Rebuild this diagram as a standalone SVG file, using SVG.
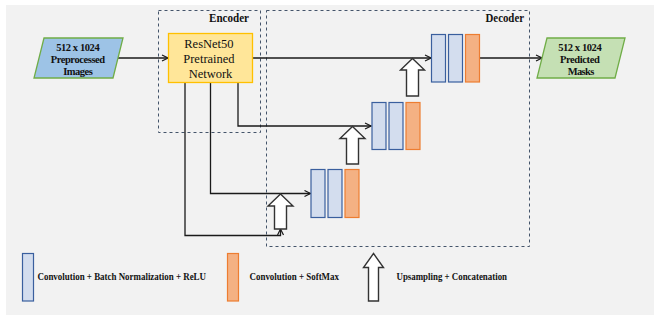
<svg xmlns="http://www.w3.org/2000/svg" width="654" height="320" viewBox="0 0 654 320">
  <style>
    .lbl { font-family: "Liberation Serif", "Times New Roman", serif; fill: #111; }
    .b { font-weight: bold; }
    .conn { fill: none; stroke: #1a1a1a; stroke-width: 1.3; }
    .frame { fill: none; stroke: #44546a; stroke-width: 1; stroke-dasharray: 3 3; }
    .conv { fill: #d3ddee; stroke: #3a5f9e; stroke-width: 1.2; }
    .soft { fill: #f4b183; stroke: #ed7d31; stroke-width: 1.2; }
    .up { fill: #ffffff; stroke: #333333; stroke-width: 1.4; stroke-linejoin: miter; }
  </style>
  <defs>
    <marker id="arr" viewBox="0 0 8 8" refX="7" refY="4" markerWidth="8" markerHeight="8" markerUnits="userSpaceOnUse" orient="auto">
      <path d="M1,1 L7,4 L1,7" fill="none" stroke="#1a1a1a" stroke-width="1.2"/>
    </marker>
  </defs>

  <!-- canvas -->
  <rect x="6" y="5" width="648" height="310" fill="#f2f2f2"/>

  <!-- dashed regions -->
  <g id="encoder">
    <rect class="frame" x="158.5" y="10.5" width="102" height="122"/>
    <text class="lbl b" x="249" y="22" font-size="11.5" text-anchor="end" textLength="40" lengthAdjust="spacingAndGlyphs">Encoder</text>
  </g>
  <g id="decoder">
    <rect class="frame" x="266.5" y="10.5" width="263" height="236"/>
    <text class="lbl b" x="524" y="22" font-size="11.5" text-anchor="end" textLength="38.5" lengthAdjust="spacingAndGlyphs">Decoder</text>
  </g>

  <!-- connectors -->
  <g id="connectors">
    <line class="conn" x1="118" y1="58" x2="168" y2="58" marker-end="url(#arr)"/>
    <line class="conn" x1="252" y1="58" x2="431" y2="58" marker-end="url(#arr)"/>
    <line class="conn" x1="480" y1="58" x2="542" y2="58" marker-end="url(#arr)"/>
    <polyline class="conn" points="238,83 238,126 371,126" marker-end="url(#arr)"/>
    <polyline class="conn" points="210.5,83 210.5,193.5 310.5,193.5" marker-end="url(#arr)"/>
    <polyline class="conn" points="185,83 185,235.5 280.5,235.5 280.5,229" marker-end="url(#arr)"/>
  </g>

  <g id="input">
    <polygon points="44,38 123,38 113,78 34,78" fill="#9dc3e6" stroke="#70ad47" stroke-width="1.3"/>
    <text class="lbl b" font-size="10.5" text-anchor="middle" lengthAdjust="spacingAndGlyphs">
      <tspan x="79" y="50.5" textLength="43.5">512 x 1024</tspan>
      <tspan x="79" y="62.5" textLength="54.5">Preprocessed</tspan>
      <tspan x="78" y="74.5" textLength="29.5">Images</tspan>
    </text>
  </g>

  <g id="resnet">
    <rect x="168.5" y="33.5" width="84" height="49" fill="#ffe699" stroke="#ffc000" stroke-width="1.3"/>
    <text class="lbl" font-size="12.5" text-anchor="middle">
      <tspan x="210.5" y="47.5">ResNet50</tspan>
      <tspan x="210.5" y="63">Pretrained</tspan>
      <tspan x="210.5" y="77.5">Network</tspan>
    </text>
  </g>

  <g id="stage3">
    <rect class="conv" x="311" y="169.5" width="14" height="48"/>
    <rect class="conv" x="328" y="169.5" width="14" height="48"/>
    <rect class="soft" x="345" y="169.5" width="14" height="48"/>
  </g>
  <g id="up3">
    <polygon class="up" points="280.5,194 293,206 286.5,206 286.5,229 274.5,229 274.5,206 268,206"/>
  </g>

  <g id="stage2">
    <rect class="conv" x="372" y="102.5" width="14" height="47"/>
    <rect class="conv" x="389" y="102.5" width="14" height="47"/>
    <rect class="soft" x="406" y="102.5" width="14" height="47"/>
  </g>
  <g id="up2">
    <polygon class="up" points="352.5,126.5 365,138.5 358.5,138.5 358.5,164 346.5,164 346.5,138.5 340,138.5"/>
  </g>

  <g id="stage1">
    <rect class="conv" x="431.5" y="34.5" width="14" height="47.5"/>
    <rect class="conv" x="448.5" y="34.5" width="14" height="47.5"/>
    <rect class="soft" x="465.5" y="34.5" width="14" height="47.5"/>
  </g>
  <g id="up1">
    <polygon class="up" points="412.5,58.5 424.5,70 418.5,70 418.5,96 406.5,96 406.5,70 400.5,70"/>
  </g>

  <g id="output">
    <polygon points="547,38 625,38 615,78 537,78" fill="#c5e0b4" stroke="#70ad47" stroke-width="1.3"/>
    <text class="lbl b" font-size="10.5" text-anchor="middle" lengthAdjust="spacingAndGlyphs">
      <tspan x="581" y="50.5" textLength="43.5">512 x 1024</tspan>
      <tspan x="581" y="62.5" textLength="40">Predicted</tspan>
      <tspan x="581" y="74.5" textLength="26.5">Masks</tspan>
    </text>
  </g>

  <!-- legend -->
  <g id="legend-conv">
    <rect class="conv" x="22.5" y="253.5" width="11" height="47.5"/>
    <text class="lbl b" x="37.5" y="279.5" font-size="10.5" textLength="168.5" lengthAdjust="spacingAndGlyphs">Convolution + Batch Normalization + ReLU</text>
  </g>
  <g id="legend-softmax">
    <rect class="soft" x="227.5" y="253.5" width="11" height="47.5"/>
    <text class="lbl b" x="249.5" y="279.5" font-size="10.5" textLength="89.5" lengthAdjust="spacingAndGlyphs">Convolution + SoftMax</text>
  </g>
  <g id="legend-up">
    <polygon class="up" points="373.5,253.5 383.5,267.5 378.5,267.5 378.5,301 368.5,301 368.5,267.5 363.5,267.5"/>
    <text class="lbl b" x="396.5" y="279.5" font-size="10.5" textLength="110.5" lengthAdjust="spacingAndGlyphs">Upsampling + Concatenation</text>
  </g>
</svg>
